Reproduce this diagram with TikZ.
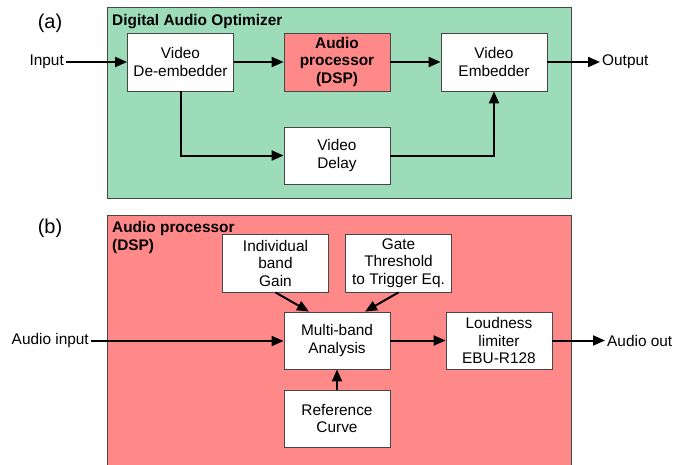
\documentclass[tikz,border=0pt]{standalone}
\usepackage{fontspec}
\setmainfont{Liberation Sans}
\usetikzlibrary{arrows.meta}
\definecolor{panelgreen}{RGB}{156,220,185}
\definecolor{panelred}{RGB}{255,137,137}
\definecolor{edgegray}{RGB}{70,70,70}
\tikzset{
  panel/.style={draw=edgegray, line width=0.8pt},
  block/.style={draw=edgegray, line width=0.8pt, fill=white, align=center,
    inner sep=0pt, minimum width=106pt, minimum height=58pt,
    font=\fontsize{15.4}{17.5}\selectfont},
  lbl/.style={inner sep=2pt, font=\fontsize{15.4}{17.5}\selectfont},
  ttl/.style={inner sep=0pt, font=\fontsize{15.4}{17.5}\selectfont\bfseries},
  tag/.style={inner sep=0pt, font=\fontsize{20}{22}\selectfont},
  arr/.style={line width=2pt, -{Triangle[length=12pt,width=10pt]}},
}
\begin{document}
\begin{tikzpicture}[x=1pt,y=-1pt]
\useasboundingbox (0,0) rectangle (675,464);

% (a) Digital Audio Optimizer
\node[tag, anchor=base] (taga) at (50,28) {(a)};
\fill[panelgreen] (107,7) rectangle (571,198);
\draw[panel] (107,7) rectangle (571,198);
\node[ttl, anchor=base west] (ttla) at (112,25) {Digital Audio Optimizer};

\node[block] (deemb) at (180.5,62) {Video\\De-embedder};
\node[block, fill=panelred, font=\fontsize{15.4}{17.5}\selectfont\bfseries] (dsp) at (337,62) {Audio\\processor\\(DSP)};
\node[block] (emb) at (494,62) {Video\\Embedder};
\node[block, minimum height=57pt] (delay) at (337,155.5) {Video\\Delay};

\node[lbl, anchor=east] (in) at (66,62) {Input};
\node[lbl, anchor=west] (out) at (600,62) {Output};

\draw[arr] (in.east) -- (deemb.west);
\draw[arr] (deemb.east) -- (dsp.west);
\draw[arr] (dsp.east) -- (emb.west);
\draw[arr] (emb.east) -- (out.west);
\draw[arr] (deemb.south) |- (delay.west);
\draw[arr] (delay.east) -| (emb.south);

% (b) Audio processor (DSP)
\node[tag, anchor=base] (tagb) at (50,233) {(b)};
\fill[panelred] (107,215) rectangle (571,470);
\draw[panel] (571,470) -- (571,215) -- (107,215) -- (107,470);
\node[ttl, anchor=base west] (ttlb1) at (112,232) {Audio processor};
\node[ttl, anchor=base west] (ttlb2) at (112,250) {(DSP)};

\node[block] (gain) at (275.5,263) {Individual\\band\\Gain};
\node[block] (gate) at (398.5,263) {Gate\\Threshold\\to Trigger Eq.};
\node[block, minimum height=57pt] (multi) at (337,340.5) {Multi-band\\Analysis};
\node[block, minimum height=57pt] (loud) at (499,340.5) {Loudness\\limiter\\EBU-R128};
\node[block, minimum height=57pt] (ref) at (337,418.5) {Reference\\Curve};

\node[lbl, anchor=east] (ain) at (91,341) {Audio input};
\node[lbl, anchor=west] (aout) at (605,341) {Audio out};

\coordinate (multiL) at ([xshift=-28pt]multi.north);
\coordinate (multiR) at ([xshift=28pt]multi.north);

\draw[arr] (ain.east) -- (ain.east -| multi.west);
\draw[arr] (multi.east) -- (loud.west);
\draw[arr] (loud.east) -- (loud.east -| aout.west);
\draw[arr] (gain.south) -- (multiL);
\draw[arr] (gate.south) -- (multiR);
\draw[arr] (ref.north) -- (multi.south);
\end{tikzpicture}
\end{document}
